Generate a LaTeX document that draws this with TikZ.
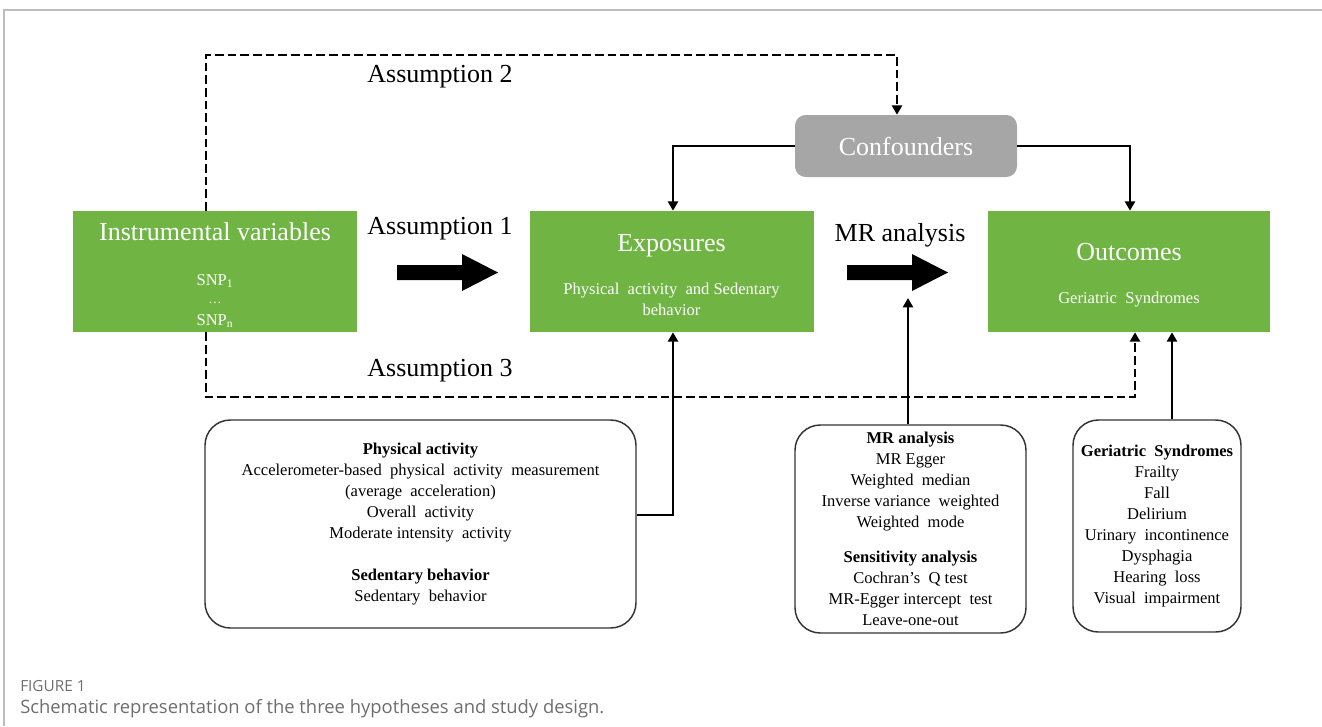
\documentclass[tikz,border=0pt]{standalone}
\usepackage{fontspec}
\setmainfont{Liberation Serif}
\newfontfamily\capfont{Open Sans}
\usetikzlibrary{arrows.meta,positioning}
\definecolor{boxgreen}{HTML}{70B544}
\definecolor{confgray}{HTML}{A6A6A6}
\definecolor{captiongray}{HTML}{6E6E6E}
\definecolor{framegray}{HTML}{BDBDBD}
\tikzset{
  greenbox/.style={fill=boxgreen, draw=none, minimum width=213pt, minimum height=90.75pt, inner sep=0pt},
  titletext/.style={text=white, font=\fontsize{19.5pt}{22pt}\selectfont, inner sep=0pt},
  subtext/.style={text=white, font=\fontsize{12.4pt}{15.5pt}\selectfont, inner sep=0pt},
  roundbox/.style={draw=black!80, line width=1.1pt, rounded corners=19pt, fill=white, align=center, inner sep=0pt,
     font=\fontsize{12.4pt}{15.75pt}\selectfont},
  conn/.style={line width=1.9pt, -{Triangle[length=7pt,width=7.5pt]}},
  dashconn/.style={line width=2.2pt, dash pattern=on 6.5pt off 3pt, -{Triangle[length=7pt,width=7.5pt]}},
  labeltext/.style={font=\fontsize{19.5pt}{22pt}\selectfont, inner sep=0pt},
  bigarrow/.style={fill=black, draw=none},
}
\begin{document}
\begin{tikzpicture}[x=0.75pt, y=-0.75pt]
\useasboundingbox (0,0) rectangle (1322,726);
% frame
\draw[framegray, line width=1pt] (4,726) -- (4,10) -- (1322,10);

% green boxes
\node[greenbox] (iv) at (215,271.5) {};
\node[greenbox] (exp) at (671.5,271.5) {};
\node[greenbox, minimum width=211.5pt] (out) at (1129,271.5) {};

\node[titletext, anchor=base] (ivt) at (215,240) {Instrumental variables};
\node[subtext, anchor=base] (snp1) at (215,285) {SNP\textsubscript{1}};
\node[subtext, anchor=base] (snpd) at (215,303) {\fontsize{10pt}{12pt}\selectfont\dots};
\node[subtext, anchor=base] (snpn) at (215,325) {SNP\textsubscript{n}};

\node[titletext, anchor=base] (expt) at (671.5,251) {Exposures};
\node[subtext, anchor=base] (exps1) at (671.5,294) {Physical\ \ activity\ \ and Sedentary};
\node[subtext, anchor=base] (exps2) at (671.5,315) {behavior};

\node[titletext, anchor=base] (outt) at (1129,260) {Outcomes};
\node[subtext, anchor=base] (outs) at (1129,303) {Geriatric\ \ Syndromes};

% confounders
\node[fill=confgray, rounded corners=8pt, minimum width=166.5pt, minimum height=46.5pt, inner sep=0pt,
      text=white, font=\fontsize{19.5pt}{22pt}\selectfont] (conf) at (906,146) {Confounders};

% labels
\node[labeltext, anchor=base] (a2) at (440,82) {Assumption 2};
\node[labeltext, anchor=base] (a1) at (440,234) {Assumption 1};
\node[labeltext, anchor=base] (mr) at (900,241) {MR analysis};
\node[labeltext, anchor=base] (a3) at (440,376) {Assumption 3};

% big arrows
\fill[bigarrow] (397,265) -- (462,265) -- (462,254) -- (498,272.5) -- (462,291) -- (462,280) -- (397,280) -- cycle;
\fill[bigarrow] (847,265) -- (912,265) -- (912,254) -- (948,272.5) -- (912,291) -- (912,280) -- (847,280) -- cycle;
\coordinate (mrarrow) at (908,298);

% bottom boxes
\node[roundbox, minimum width=323.25pt, minimum height=156pt] (pa) at (420.5,524) {%
\textbf{Physical activity}\\
Accelerometer-based\ \ physical\ \ activity\ \ measurement\\
(average\ \ acceleration)\\
Overall\ \ activity\\
Moderate intensity\ \ activity\\[15.75pt]
\textbf{Sedentary behavior}\\
Sedentary\ \ behavior};

\node[roundbox, minimum width=173.25pt, minimum height=156pt] (mrb) at (910.5,529) {%
\textbf{MR} \textbf{analysis}\\
MR Egger\\
Weighted\ \ median\\
Inverse variance\ \ weighted\\
Weighted\ \ mode\\[10.5pt]
\textbf{Sensitivity analysis}\\
Cochran's\ \ Q test\\
MR-Egger intercept\ \ test\\
Leave-one-out};

\node[roundbox, minimum width=126pt, minimum height=159pt] (gs) at (1157,526) {%
\textbf{Geriatric\ \ Syndromes}\\
Frailty\\
Fall\\
Delirium\\
Urinary\ \ incontinence\\
Dysphagia\\
Hearing\ \ loss\\
Visual\ \ impairment};

% connectors
\draw[dashconn] (iv.north -| 206,0) -- (206,55) -- (897,55) -- (conf.north -| 897,0);
\draw[dashconn] (iv.south -| 206,0) -- (206,397) -- (1135,397) -- (out.south -| 1135,0);
\draw[conn] (conf.west) -- (673,146) -- (exp.north -| 673,0);
\draw[conn] (conf.east) -- (1130,146) -- (out.north -| 1130,0);
\draw[conn] (pa.east |- 0,515) -- (673,515) -- (exp.south -| 673,0);
\draw[conn] (mrb.north -| 908,0) -- (mrarrow);
\draw[conn] (gs.north -| 1172,0) -- (out.south -| 1172,0);

% caption
\node[anchor=base west, inner sep=0pt, text=captiongray, font=\capfont\fontsize{11.5pt}{13pt}\selectfont] (figlab) at (20,691) {FIGURE 1};
\node[anchor=base west, inner sep=0pt, text=captiongray, font=\capfont\fontsize{13.8pt}{16pt}\selectfont] (cap) at (20,713) {Schematic representation of the three hypotheses and study design.};
\end{tikzpicture}
\end{document}
